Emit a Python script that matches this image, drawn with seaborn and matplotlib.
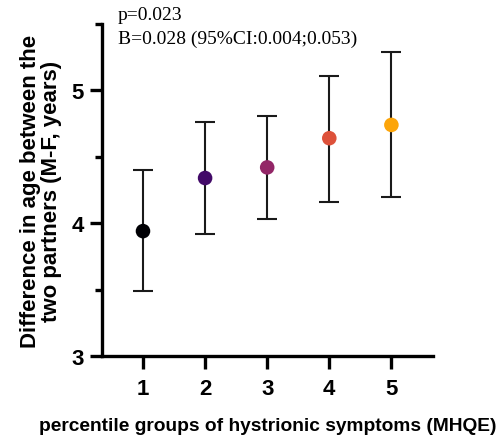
import matplotlib
matplotlib.use("Agg")
import matplotlib.pyplot as plt
import seaborn as sns
import pandas as pd
from matplotlib.ticker import MultipleLocator

sns.set_style("ticks")
plt.rcParams['font.family'] = ['Liberation Sans', 'DejaVu Sans']
plt.rcParams['text.color'] = 'black'
plt.rcParams['axes.labelcolor'] = 'black'
plt.rcParams['xtick.color'] = 'black'
plt.rcParams['ytick.color'] = 'black'
plt.rcParams['axes.edgecolor'] = 'black'

groups = [1, 2, 3, 4, 5]
means = [3.94, 4.34, 4.42, 4.64, 4.74]
ci_low = [3.49, 3.92, 4.03, 4.16, 4.20]
ci_high = [4.40, 4.76, 4.81, 5.11, 5.29]
colors = ["#000004", "#420a68", "#932667", "#dd513a", "#fca50a"]
xlabel = "percentile groups of hystrionic symptoms (MHQE)"
ylabel = "Difference in age between the\ntwo partners (M-F, years)"
annot1 = "p=0.023"
annot2 = "B=0.028 (95%CI:0.004;0.053)"

df = pd.DataFrame({"group": groups, "mean": means, "lo": ci_low, "hi": ci_high})

fig = plt.figure(figsize=(5.0, 4.39), dpi=100)
ax = fig.add_axes([0.204, 0.187, 0.662, 0.756])

yerr = [df["mean"] - df["lo"], df["hi"] - df["mean"]]
ax.errorbar(df["group"], df["mean"], yerr=yerr, fmt="none", ecolor="#1a1a1a",
            elinewidth=1.5, capsize=7, capthick=1.5, zorder=2)
sns.scatterplot(data=df, x="group", y="mean", hue="group", palette=colors,
                s=110, edgecolor="none", legend=False, ax=ax, zorder=3)

ax.set_xlim(0.34, 5.67)
ax.set_ylim(3, 5.5)
ax.set_xticks(groups)
ax.yaxis.set_major_locator(MultipleLocator(1))
ax.yaxis.set_minor_locator(MultipleLocator(0.5))
sns.despine(ax=ax)
for s in ["left", "bottom"]:
    ax.spines[s].set_linewidth(2.4)
ax.tick_params(axis="both", which="major", length=9, width=2.4, labelsize=16)
ax.tick_params(axis="x", which="major", pad=7)
ax.tick_params(axis="y", which="major", pad=4)
ax.tick_params(axis="y", which="minor", length=5, width=2.4)
for lab in ax.get_xticklabels() + ax.get_yticklabels():
    lab.set_fontweight("bold")

ax.set_xlabel(xlabel, fontsize=13.8, fontweight="bold", labelpad=13)
ax.set_ylabel(ylabel, fontsize=16, fontweight="bold", labelpad=7, linespacing=1.0)

fig.text(0.236, 0.965, annot1, fontsize=14, family="Liberation Serif", va="center")
fig.text(0.236, 0.910, annot2, fontsize=14, family="Liberation Serif", va="center")

fig.savefig("out.png", dpi=100)
